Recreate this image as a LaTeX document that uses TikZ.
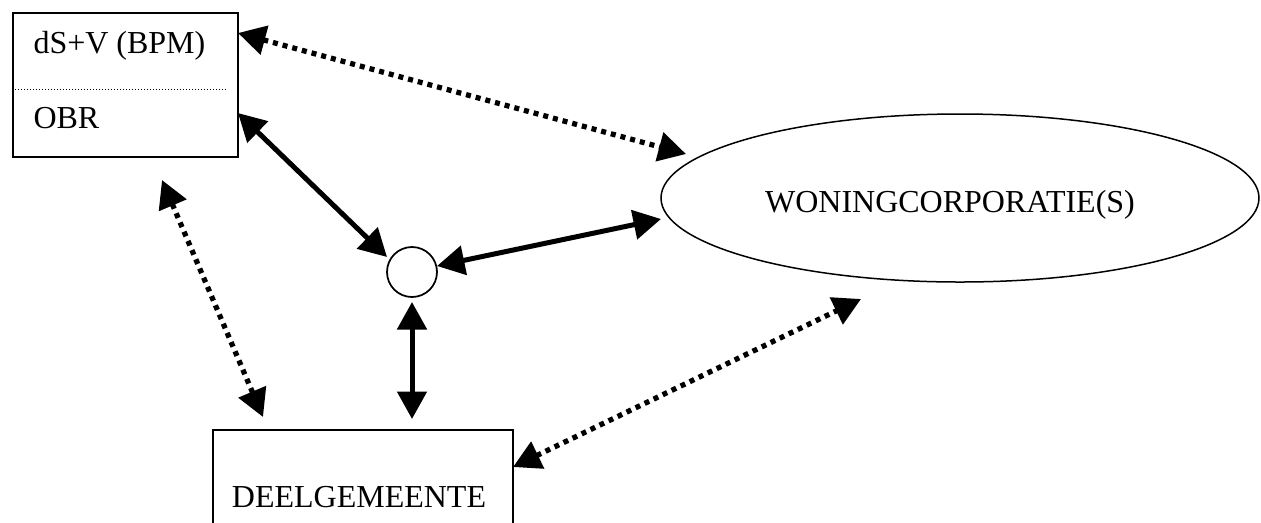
\documentclass[tikz,border=0pt]{standalone}
\usepackage{fontspec}
\setmainfont{Liberation Serif}
\usetikzlibrary{arrows.meta,shapes.geometric}
\tikzset{
  lbl/.style={inner sep=0pt,font=\fontsize{12.8}{15}\selectfont},
  boxline/.style={draw,line width=0.7pt},
  solidarrow/.style={line width=2pt,{Triangle[length=11pt,width=11.6pt]}-{Triangle[length=11pt,width=11.6pt]}},
  dotarrow/.style={line width=2.1pt,dash pattern=on 2pt off 2pt,{Triangle[length=11pt,width=11.6pt]}-{Triangle[length=11pt,width=11.6pt]}},
}
\begin{document}
\begin{tikzpicture}[x=0.4pt,y=-0.4pt]
\clip (0,0) rectangle (1261,522);
\fill[white] (0,0) rectangle (1261,522);
% top box
\node[boxline,rectangle,minimum width=90pt,minimum height=57.6pt,inner sep=0pt] (tb) at (125.5,85) {};
\node[lbl,anchor=base west] (t1) at (33,53) {dS+V (BPM)};
\node[lbl,anchor=base west] (t2) at (33,128) {OBR};
\draw[line width=0.4pt,dash pattern=on 0.4pt off 0.8pt] (tb.west |- 0,89) ++(3,0) coordinate (sepA) -- (228,89) coordinate (sepB);
% ellipse
\node[draw,ellipse,line width=0.6pt,minimum width=239.2pt,minimum height=67.2pt,inner sep=0pt] (wc) at (960,198) {};
\node[lbl,anchor=base] (wct) at (950,212) {WONINGCORPORATIE(S)};
% circle
\node[draw,circle,line width=0.7pt,minimum size=20pt,inner sep=0pt] (c) at (412,272) {};
% bottom box
\node[boxline,rectangle,minimum width=120pt,minimum height=48pt,inner sep=0pt,anchor=north west] (dg) at (212,429) {};
\node[lbl,anchor=base] (dgt) at (359,507) {DEELGEMEENTE};
% connector end points
\coordinate (tbA) at (238,33);  \coordinate (wcA) at (686,154);
\coordinate (tbB) at (238,113); \coordinate (cB) at (387,257);
\coordinate (cC) at (437,266);  \coordinate (wcC) at (661,219);
\coordinate (cD) at (412,302);  \coordinate (dgD) at (412,419);
\coordinate (tbE) at (162,180); \coordinate (dgE) at (263,417);
\coordinate (dgF) at (513,467); \coordinate (wcF) at (861,299);
% connectors
\draw[dotarrow] (tbA) -- (wcA);
\draw[solidarrow] (tbB) -- (cB);
\draw[solidarrow] (cC) -- (wcC);
\draw[solidarrow] (cD) -- (dgD);
\draw[dotarrow] (tbE) -- (dgE);
\draw[dotarrow] (dgF) -- (wcF);
\end{tikzpicture}
\end{document}
